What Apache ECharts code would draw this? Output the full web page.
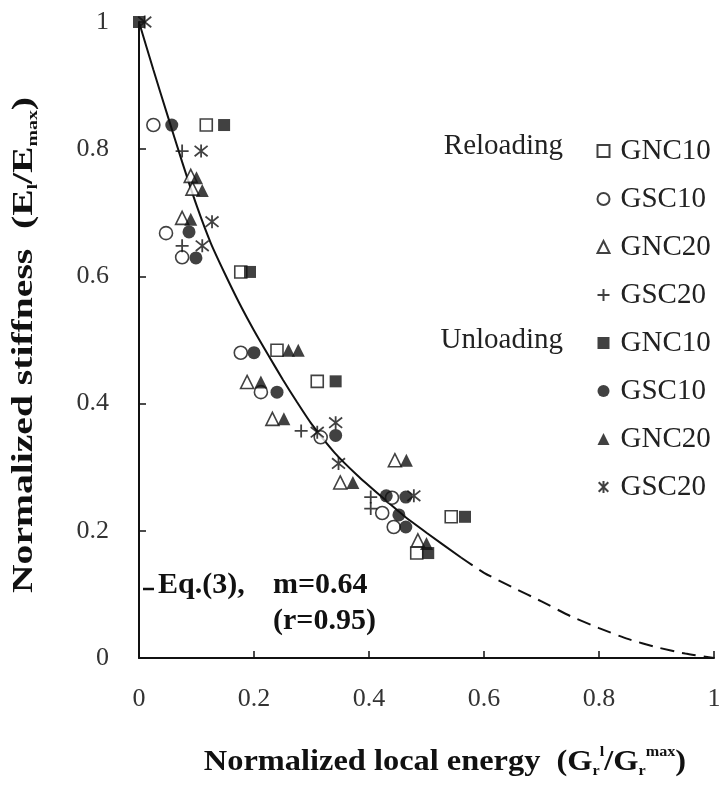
<!DOCTYPE html>
<html>
<head>
<meta charset="utf-8">
<script src="https://cdn.jsdelivr.net/npm/echarts@6/dist/echarts.min.js"></script>
<style>
  html, body { margin: 0; padding: 0; background: #fff; }
  #chart { width: 724px; height: 786px; }
</style>
</head>
<body>
<div id="chart"></div>
<script>
// Normalized stiffness vs. normalized local energy, reloading / unloading branches

const xTicks = [0, 0.2, 0.4, 0.6, 0.8, 1];
const yTicks = [0, 0.2, 0.4, 0.6, 0.8, 1];

// Reloading (open symbols)
const reGNC10 = [[0.117,0.838],[0.177,0.607],[0.24,0.484],[0.31,0.435],[0.543,0.222],[0.483,0.165]];
const reGSC10 = [[0.025,0.838],[0.047,0.668],[0.075,0.63],[0.177,0.48],[0.212,0.418],[0.316,0.347],[0.44,0.252],[0.423,0.228],[0.443,0.206]];
const reGNC20 = [[0.09,0.758],[0.093,0.738],[0.075,0.692],[0.188,0.434],[0.232,0.376],[0.35,0.276],[0.445,0.311],[0.485,0.185]];
const reGSC20 = [[0.075,0.797],[0.075,0.648],[0.282,0.357],[0.403,0.253],[0.403,0.235]];

// Unloading (filled symbols)
const unGNC10 = [[0,1],[0.148,0.838],[0.193,0.607],[0.342,0.435],[0.567,0.222],[0.503,0.165]];
const unGSC10 = [[0.057,0.838],[0.087,0.67],[0.099,0.629],[0.2,0.48],[0.24,0.418],[0.342,0.35],[0.43,0.255],[0.464,0.253],[0.452,0.225],[0.464,0.206]];
const unGNC20 = [[0.1,0.755],[0.11,0.735],[0.09,0.69],[0.212,0.434],[0.26,0.484],[0.277,0.484],[0.252,0.376],[0.372,0.276],[0.465,0.311],[0.5,0.18]];
const unGSC20 = [[0.01,1],[0.108,0.797],[0.127,0.686],[0.11,0.648],[0.31,0.355],[0.342,0.37],[0.347,0.306],[0.478,0.255]];

// Eq.(3) curve, m = 0.64: fitted range (solid) and extrapolation (dashed)
const fitSolid = [[0,1],[0.025,0.925],[0.05,0.852],[0.075,0.78],[0.10,0.712],[0.125,0.652],[0.15,0.603],[0.175,0.557],[0.20,0.515],[0.225,0.476],[0.25,0.438],[0.275,0.402],[0.30,0.368],[0.34,0.323],[0.38,0.287],[0.42,0.255],[0.46,0.224],[0.50,0.197],[0.56,0.158]];
const fitDashed = [[0.56,0.158],[0.60,0.134],[0.65,0.111],[0.70,0.089],[0.75,0.066],[0.80,0.047],[0.85,0.03],[0.90,0.017],[0.95,0.007],[1,0]];

const groupLabels = ['Reloading', 'Unloading'];
const eqText = ['Eq.(3),', 'm=0.64', '(r=0.95)'];

const serif = 'Liberation Serif';
const BLACK = '#111';

const open = { color: '#fff', borderColor: BLACK, borderWidth: 1.6 };
const solid = { color: BLACK, borderColor: BLACK, borderWidth: 0 };
const stroke = { color: 'none', borderColor: BLACK, borderWidth: 1.8 };

const PLUS = 'path://M0,5L10,5M5,0L5,10';
const STAR = 'path://M1,1L9,9M9,1L1,9M5,0L5,10';

function scatter(name, data, symbol, size, style) {
  return { name, type: 'scatter', data, symbol, symbolSize: size, itemStyle: style, z: 3, silent: true };
}

const series = [
  { name: 'fit', type: 'line', data: fitSolid, showSymbol: false, smooth: 0.2, z: 2,
    lineStyle: { color: BLACK, width: 2 } },
  { name: 'fitExt', type: 'line', data: fitDashed, showSymbol: false, smooth: 0.2, z: 2,
    lineStyle: { color: BLACK, width: 2, type: [14, 8] } },
  scatter('Reloading GNC10', reGNC10, 'rect', 12, open),
  scatter('Reloading GSC10', reGSC10, 'circle', 13, open),
  scatter('Reloading GNC20', reGNC20, 'triangle', 13, open),
  scatter('Reloading GSC20', reGSC20, PLUS, 13, stroke),
  scatter('Unloading GNC10', unGNC10, 'rect', 12, solid),
  scatter('Unloading GSC10', unGSC10, 'circle', 13, solid),
  scatter('Unloading GNC20', unGNC20, 'triangle', 13, solid),
  scatter('Unloading GSC20', unGSC20, STAR, 13, stroke)
];

const titleRich = {
  b:  { fontFamily: serif, fontWeight: 'bold', fontSize: 30, lineHeight: 34, fill: BLACK },
  sb: { fontFamily: serif, fontWeight: 'bold', fontSize: 15, lineHeight: 15, verticalAlign: 'bottom', fill: BLACK },
  sp: { fontFamily: serif, fontWeight: 'bold', fontSize: 15, lineHeight: 15, verticalAlign: 'top', fill: BLACK }
};

const chart = echarts.init(document.getElementById('chart'), null, { renderer: 'canvas' });

chart.setOption({
  animation: false,
  backgroundColor: '#fff',
  grid: { left: 139, right: 10, top: 22, bottom: 128, containLabel: false },
  xAxis: {
    type: 'value', min: xTicks[0], max: xTicks[xTicks.length - 1], interval: 0.2,
    axisLine: { lineStyle: { color: BLACK, width: 2 } },
    axisTick: { inside: true, length: 7, lineStyle: { color: BLACK, width: 1.5 } },
    axisLabel: { fontFamily: serif, fontSize: 26, color: '#333', margin: 28 },
    splitLine: { show: false }
  },
  yAxis: {
    type: 'value', min: yTicks[0], max: yTicks[yTicks.length - 1], interval: 0.2,
    axisLine: { lineStyle: { color: BLACK, width: 2 } },
    axisTick: { inside: true, length: 7, lineStyle: { color: BLACK, width: 1.5 } },
    axisLabel: { fontFamily: serif, fontSize: 26, color: '#333', margin: 30 },
    splitLine: { show: false }
  },
  legend: {
    orient: 'vertical', left: 590, top: 131,
    itemWidth: 12, itemHeight: 12, itemGap: 18,
    selectedMode: false,
    data: series.slice(2).map(s => s.name),
    formatter: n => n.split(' ')[1],
    textStyle: { fontFamily: serif, fontSize: 29, lineHeight: 30, color: '#222', padding: [0, 0, 0, 6] }
  },
  graphic: [
    // axis titles
    { type: 'text', x: 24, y: 345, rotation: Math.PI / 2, scaleX: 1.32,
      style: { text: '{b|Normalized stiffness  (E}{sb|l}{b|/E}{sb|max}{b|)}', rich: titleRich,
               textAlign: 'center', textVerticalAlign: 'middle' } },
    { type: 'text', x: 445, y: 762, scaleX: 1.08,
      style: { text: '{b|Normalized local energy  (G}{sb|r}{sp|l}{b|/G}{sb|r}{sp|max}{b|)}', rich: titleRich,
               textAlign: 'center', textVerticalAlign: 'middle' } },
    // legend group headers
    { type: 'text', x: 563, y: 146,
      style: { text: groupLabels[0], font: '29px "Liberation Serif"', fill: '#222', textAlign: 'right', textVerticalAlign: 'middle' } },
    { type: 'text', x: 563, y: 340,
      style: { text: groupLabels[1], font: '29px "Liberation Serif"', fill: '#222', textAlign: 'right', textVerticalAlign: 'middle' } },
    // curve key and fit statistics
    { type: 'line', shape: { x1: 143, y1: 589, x2: 154, y2: 589 }, style: { stroke: BLACK, lineWidth: 2.5 } },
    { type: 'text', x: 158, y: 585,
      style: { text: eqText[0], font: 'bold 30px "Liberation Serif"', fill: BLACK, textAlign: 'left', textVerticalAlign: 'middle' } },
    { type: 'text', x: 273, y: 585,
      style: { text: eqText[1], font: 'bold 30px "Liberation Serif"', fill: BLACK, textAlign: 'left', textVerticalAlign: 'middle' } },
    { type: 'text', x: 273, y: 621,
      style: { text: eqText[2], font: 'bold 30px "Liberation Serif"', fill: BLACK, textAlign: 'left', textVerticalAlign: 'middle' } }
  ],
  series
});
</script>
</body>
</html>
